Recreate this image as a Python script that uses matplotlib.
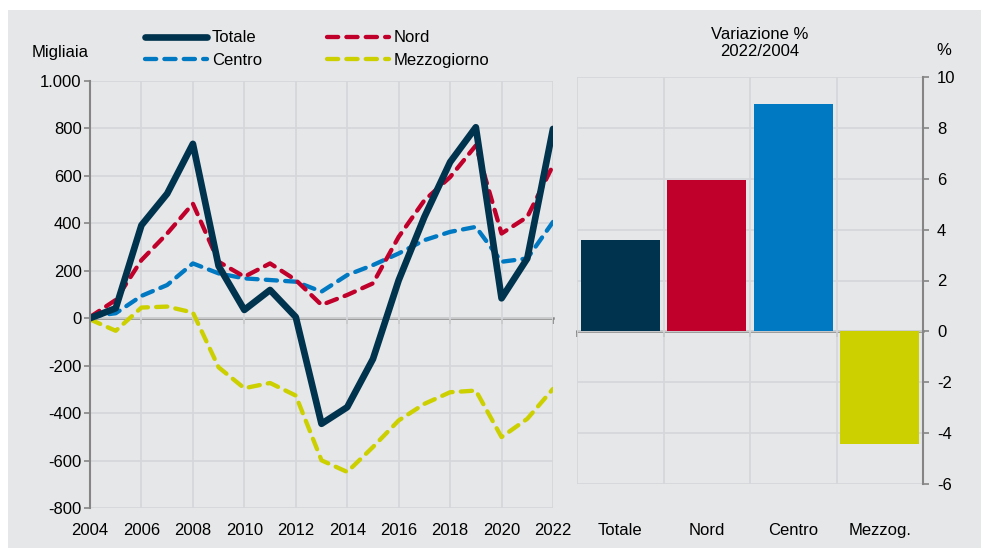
import numpy as np
import matplotlib
matplotlib.use("Agg")
import matplotlib.pyplot as plt
from matplotlib.patches import Rectangle
from matplotlib.ticker import FuncFormatter

plt.rcParams["font.family"] = ["Liberation Sans", "DejaVu Sans"]
plt.rcParams["font.size"] = 12
plt.rcParams["axes.unicode_minus"] = False

# occupati, variazione cumulata rispetto al 2004 (migliaia)
anni = list(range(2004, 2023))
totale = [0, 42, 392, 525, 735, 220, 35, 119, 5, -445, -375, -172, 160, 427, 658, 805, 84, 252, 798]
nord = [5, 77, 245, 357, 483, 238, 175, 231, 161, 56, 98, 147, 343, 497, 595, 728, 357, 427, 644]
centro = [7, 21, 94, 140, 231, 189, 168, 161, 154, 112, 182, 224, 273, 329, 364, 385, 238, 252, 406]
mezzogiorno = [-5, -53, 45, 49, 24, -207, -295, -273, -326, -599, -648, -543, -431, -361, -312, -305, -501, -424, -298]

# variazione % 2022/2004
aree = ["Totale", "Nord", "Centro", "Mezzog."]
var_pct = [3.58, 5.94, 8.94, -4.41]

c_tot = "#00334e"
c_nord = "#c0002b"
c_centro = "#0079c2"
c_mezz = "#ccd000"
sfondo = "#e6e7e9"
griglia = "#d5d6d9"
assi = "#858585"

fig = plt.figure(figsize=(9.81, 5.48), dpi=100)
fig.patch.set_facecolor("white")
fig.patches.append(Rectangle((8 / 981, 0), 1, 1 - 10 / 548, transform=fig.transFigure,
                             facecolor=sfondo, edgecolor="none", zorder=-10))

# --- pannello sinistro: linee ---
ax = fig.add_axes([90 / 981, 1 - 508 / 548, 463 / 981, 427 / 548])
ax.set_facecolor("none")
tratteggio = (0, (2.6, 1.9))
ax.plot(anni, mezzogiorno, color=c_mezz, lw=3.1, ls=tratteggio, dash_capstyle="round", label="Mezzogiorno")
ax.plot(anni, centro, color=c_centro, lw=3.1, ls=tratteggio, dash_capstyle="round", label="Centro")
ax.plot(anni, nord, color=c_nord, lw=3.1, ls=tratteggio, dash_capstyle="round", label="Nord")
ax.plot(anni, totale, color=c_tot, lw=4.8, solid_capstyle="round", label="Totale")

ax.set_xlim(2004, 2022)
ax.set_ylim(-800, 1000)
ax.set_yticks(np.arange(-800, 1001, 200))
ax.set_xticks(anni[::2])
ax.yaxis.set_major_formatter(FuncFormatter(lambda v, p: f"{int(v):,}".replace(",", ".")))
ax.grid(True, color=griglia, lw=1.2)
ax.set_axisbelow(True)
for s in ["top", "right", "bottom"]:
    ax.spines[s].set_visible(False)
ax.spines["left"].set_color(assi)
ax.spines["left"].set_linewidth(1.5)
ax.tick_params(axis="y", direction="out", length=4, width=1.2, color=assi, pad=2)
ax.tick_params(axis="x", length=0, pad=11)

asse0 = ax.secondary_xaxis((0 - (-800)) / 1800)
asse0.set_xticks(anni[::2])
asse0.tick_params(direction="out", length=4, width=1.2, color=assi, labelbottom=False)
asse0.spines["bottom"].set_color(assi)
asse0.spines["bottom"].set_linewidth(1.8)

h, l = ax.get_legend_handles_labels()
ordine = [3, 1, 2, 0]
fig.legend([h[i] for i in ordine], [l[i] for i in ordine], ncol=2, frameon=False,
           loc="upper left", bbox_to_anchor=(137 / 981, 1 - 22 / 548), borderpad=0,
           handlelength=3.7, handletextpad=0.3, columnspacing=3.9, labelspacing=0.45)

fig.text(60 / 981, 1 - 52 / 548, "Migliaia", ha="center", va="center")

# --- pannello destro: barre ---
bx = fig.add_axes([577 / 981, 1 - 484 / 548, 346 / 981, 407 / 548])
bx.set_facecolor("none")
pos = np.arange(len(aree))
bx.bar(pos, var_pct, width=0.91, color=[c_tot, c_nord, c_centro, c_mezz], zorder=2)
bx.set_xlim(-0.5, 3.5)
bx.set_ylim(-6, 10)
bx.set_yticks(np.arange(-6, 11, 2))
bx.set_xticks(pos)
bx.set_xticklabels(aree)
bx.set_xticks(pos[:-1] + 0.5, minor=True)
bx.grid(True, axis="y", color=griglia, lw=1.2)
bx.grid(True, axis="x", which="minor", color=griglia, lw=1.2)
bx.axvline(-0.5, color=griglia, lw=1.2)
bx.set_axisbelow(True)
for s in ["top", "left", "bottom"]:
    bx.spines[s].set_visible(False)
bx.spines["right"].set_color(assi)
bx.spines["right"].set_linewidth(1.5)
bx.yaxis.tick_right()
bx.tick_params(axis="y", direction="out", length=4, width=1.2, color=assi, pad=6)
bx.tick_params(axis="x", which="both", length=0, pad=28)

bx0 = bx.secondary_xaxis(6 / 16)
bx0.set_xticks(np.arange(-0.5, 3.0, 1.0))
bx0.tick_params(direction="out", length=4, width=1.2, color=assi, labelbottom=False)
bx0.spines["bottom"].set_color(assi)
bx0.spines["bottom"].set_linewidth(1.8)

fig.text(760 / 981, 1 - 43 / 548, "Variazione %\n2022/2004", ha="center", va="center", linespacing=1.15)
fig.text(944 / 981, 1 - 50 / 548, "%", ha="center", va="center")

fig.savefig("out.png", dpi=100)
